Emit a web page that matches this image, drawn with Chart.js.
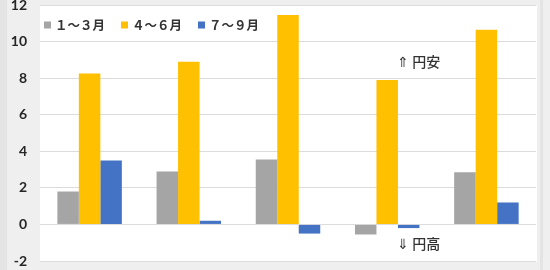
<!DOCTYPE html>
<html>
<head>
<meta charset="utf-8">
<script src="https://cdn.jsdelivr.net/npm/chart.js@4"></script>
<style>
  html, body { margin: 0; padding: 0; overflow: hidden; background: #efefef; }
  #wrap { position: absolute; left: 0; top: -20px; width: 550px; height: 310px; }
</style>
</head>
<body>
<div id="wrap"><canvas id="grafico" width="550" height="310"></canvas></div>
<script>
const categorias = ['A', 'B', 'C', 'D', 'E']
const series = ['１～３月', '４～６月', '７～９月']
const q1 = [1.8, 2.9, 3.55, -0.55, 2.85]
const q2 = [8.25, 8.9, 11.45, 7.9, 10.65]
const q3 = [3.5, 0.2, -0.5, -0.2, 1.2]
const cores = ['#a5a5a5', '#ffc000', '#4472c4']
const yMin = -2
const yMax = 12
const yPasso = 2

// anotações: texto, índice da categoria, valor
const notas = [
  { texto: '⇑ 円安', cat: 3, valor: 8.9 },
  { texto: '⇓ 円高', cat: 3, valor: -1.05 }
]

// fundo cinza + área branca do gráfico
const fundo = {
  id: 'fundo',
  beforeDraw(chart) {
    const { ctx, chartArea: a, width, height } = chart
    ctx.save()
    ctx.fillStyle = '#efefef'
    ctx.fillRect(0, 0, width, height)
    ctx.fillStyle = '#e4e4e4'
    ctx.fillRect(0, 0, 7, height)
    ctx.fillRect(a.right + 4, 0, 3, height)
    ctx.fillStyle = '#ffffff'
    ctx.fillRect(a.left, a.top, a.right - a.left + 1, a.bottom - a.top + 1)
    ctx.restore()
  }
}

// legenda dentro da área + textos
const extras = {
  id: 'extras',
  afterDraw(chart) {
    const { ctx, chartArea: a } = chart
    const xs = chart.scales.x
    const ys = chart.scales.y
    ctx.save()
    ctx.textBaseline = 'middle'
    ctx.textAlign = 'left'
    ctx.font = 'bold 12.5px "Noto Sans CJK JP"'
    let x = a.left + 4
    const y = a.top + 20
    chart.data.datasets.forEach(ds => {
      ctx.fillStyle = ds.backgroundColor
      ctx.fillRect(x, y - 3.5, 7, 7)
      ctx.fillStyle = '#333333'
      ctx.fillText(ds.label, x + 11, y)
      x += 11 + ctx.measureText(ds.label).width + 16
    })

    ctx.font = '500 14px "Noto Sans CJK JP"'
    notas.forEach(n => {
      ctx.fillText(n.texto, xs.getPixelForValue(n.cat) + 10, ys.getPixelForValue(n.valor))
    })

    // título do eixo, cortado pela borda
    ctx.textBaseline = 'top'
    ctx.font = '13px "Noto Sans CJK JP"'
    ctx.fillStyle = '#333333'
    ctx.fillText('（％）', 12, a.bottom + 9)
    ctx.restore()
  }
}

new Chart(document.getElementById('grafico').getContext('2d'), {
  type: 'bar',
  data: {
    labels: categorias,
    datasets: [q1, q2, q3].map((d, i) => ({
      label: series[i],
      data: d,
      backgroundColor: cores[i],
      borderWidth: 0,
      categoryPercentage: 0.65,
      barPercentage: 1
    }))
  },
  options: {
    responsive: false,
    animation: false,
    devicePixelRatio: 1,
    layout: { padding: { top: 25, bottom: 29, left: 0, right: 14 } },
    plugins: { legend: { display: false }, tooltip: { enabled: false } },
    scales: {
      x: { display: false },
      y: {
        min: yMin,
        max: yMax,
        afterFit: s => { s.width = 40 },
        ticks: {
          stepSize: yPasso,
          padding: 13,
          color: '#262626',
          font: { family: 'Lato', size: 14, weight: 'bold' }
        },
        grid: { color: '#dcdcdc', lineWidth: 1, drawTicks: false },
        border: { display: false }
      }
    }
  },
  plugins: [fundo, extras]
})
</script>
</body>
</html>
